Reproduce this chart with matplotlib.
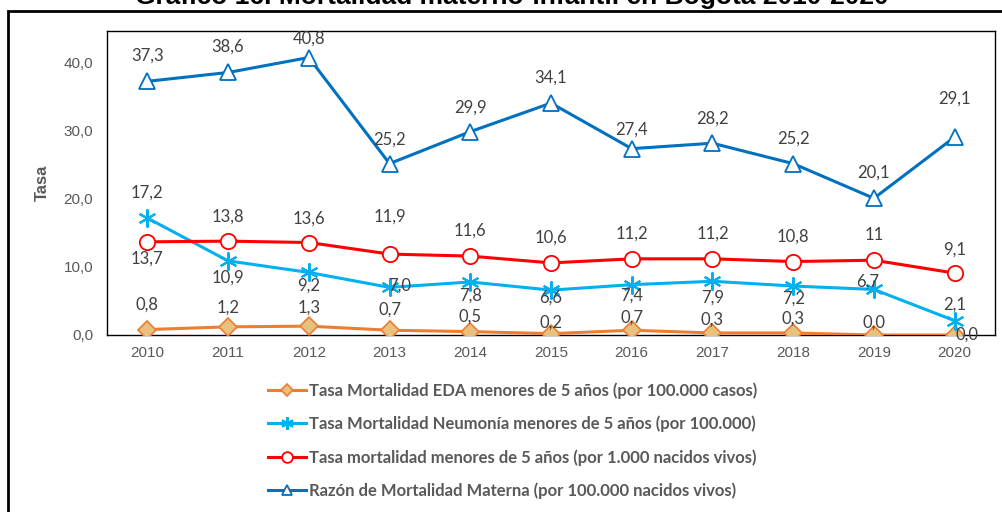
import numpy as np
import matplotlib
matplotlib.use("Agg")
import matplotlib.pyplot as plt
from matplotlib.patches import Rectangle

plt.rcParams["font.family"] = ["Liberation Sans", "DejaVu Sans"]

# ── data ──────────────────────────────────────
years = ["2010", "2011", "2012", "2013", "2014", "2015",
         "2016", "2017", "2018", "2019", "2020"]
eda = [0.8, 1.2, 1.3, 0.7, 0.5, 0.2, 0.7, 0.3, 0.3, 0.0, 0.0]
neumonia = [17.2, 10.9, 9.2, 7.0, 7.8, 6.6, 7.4, 7.9, 7.2, 6.7, 2.1]
menores5 = [13.7, 13.8, 13.6, 11.9, 11.6, 10.6, 11.2, 11.2, 10.8, 11, 9.1]
materna = [37.3, 38.6, 40.8, 25.2, 29.9, 34.1, 27.4, 28.2, 25.2, 20.1, 29.1]

labels_leg = [
    "Tasa Mortalidad EDA menores de 5 años (por 100.000 casos)",
    "Tasa Mortalidad Neumonía menores de 5 años (por 100.000)",
    "Tasa mortalidad menores de 5 años (por 1.000 nacidos vivos)",
    "Razón de Mortalidad Materna (por 100.000 nacidos vivos)",
]

# label offsets in pixels (dx, dy), positive dy = up
off_eda = [(0, 25), (0, 19), (0, 19), (0, 21), (0, 15), (0, 11),
           (0, 13), (0, 13), (0, 14), (0, 12), (12, 0)]
off_neu = [(0, 25), (0, -17), (0, -13), (10, 2), (0, -14), (0, -8),
           (0, -11), (0, -16), (0, -13), (-6, 8), (0, 16)]
off_men = [(0, -17), (0, 25), (0, 24), (0, 37), (0, 25), (0, 25),
           (0, 25), (0, 25), (0, 25), (0, 25), (0, 23)]
off_mat = [(0, 26), (0, 26), (0, 19), (0, 24), (0, 24), (0, 25),
           (0, 19), (0, 25), (0, 25), (0, 26), (0, 38)]

def fmt(v):
    if v == 11:
        return "11"
    return f"{v:.1f}".replace(".", ",")

# ── figure ────────────────────────────────────
fig = plt.figure(figsize=(10.03, 5.12), dpi=100)
ax = fig.add_axes([107 / 1003, 1 - 335 / 512, 888 / 1003, 304 / 512])

x = np.arange(len(years))
label_font = dict(family=["Lato", "DejaVu Sans"], size=12, color="#404040")

series = [
    (eda, "#ED7D31", dict(marker="D", markersize=9, markerfacecolor="#E8C17F",
                          markeredgecolor="#ED7D31", markeredgewidth=1.2), off_eda),
    (neumonia, "#00B0F0", dict(marker=(6, 2, 0), markersize=13,
                               markeredgecolor="#00B0F0", markeredgewidth=1.5), off_neu),
    (menores5, "#FF0000", dict(marker="o", markersize=11, markerfacecolor="white",
                               markeredgecolor="#FF0000", markeredgewidth=1.3), off_men),
    (materna, "#0070C0", dict(marker="^", markersize=11, markerfacecolor="white",
                              markeredgecolor="#0070C0", markeredgewidth=1.3), off_mat),
]

for (vals, col, mk, offs), lab in zip(series, labels_leg):
    ax.plot(x, vals, color=col, linewidth=2.2, label=lab, zorder=3, **mk)
    for xi, v, (dx, dy) in zip(x, vals, offs):
        ax.annotate(fmt(v), xy=(xi, v), xytext=(dx, dy), textcoords="offset pixels",
                    ha="center", va="center", zorder=4, **label_font)

ax.set_xlim(-0.5, 10.5)
ax.set_ylim(0, 44.7)
ax.set_xticks(x)
ax.set_xticklabels(years)
ax.set_yticks([0, 10, 20, 30, 40])
ax.set_yticklabels([f"{t:.1f}".replace(".", ",") for t in [0, 10, 20, 30, 40]])
ax.tick_params(length=0, labelsize=11, labelcolor="#595959")
ax.tick_params(axis="x", pad=8)
ax.tick_params(axis="y", pad=10)
for s in ax.spines.values():
    s.set_color("black")
    s.set_linewidth(1.0)
ax.set_ylabel("Tasa", fontsize=12, fontweight="bold", color="#595959", labelpad=10)

# legend below plot
handles, labs = ax.get_legend_handles_labels()
leg = fig.legend(handles, labs, loc="upper left", bbox_to_anchor=(268 / 1003, 1 - 382 / 512),
                 frameon=False, handlelength=2.3, handletextpad=0.15, labelspacing=1.02,
                 borderaxespad=0, borderpad=0,
                 prop=dict(family=["Lato", "DejaVu Sans"], weight="bold", size=12))
for t in leg.get_texts():
    t.set_color("#595959")
for h in leg.legend_handles:
    h.set_markersize(h.get_markersize() * 0.7)

# outer frame
fig.patches.append(Rectangle((8 / 1003, -0.1), 1.1, 1 - 11 / 512 + 0.1,
                             transform=fig.transFigure, fill=False,
                             edgecolor="black", linewidth=2))

# title (cut at the top of the image)
fig.text(512 / 1003, 1 - 4 / 512, "Gráfico 16. Mortalidad materno-infantil en Bogotá 2010-2020",
         ha="center", va="baseline", fontsize=19, fontweight="bold", color="black")

fig.savefig("out.png", dpi=100)
